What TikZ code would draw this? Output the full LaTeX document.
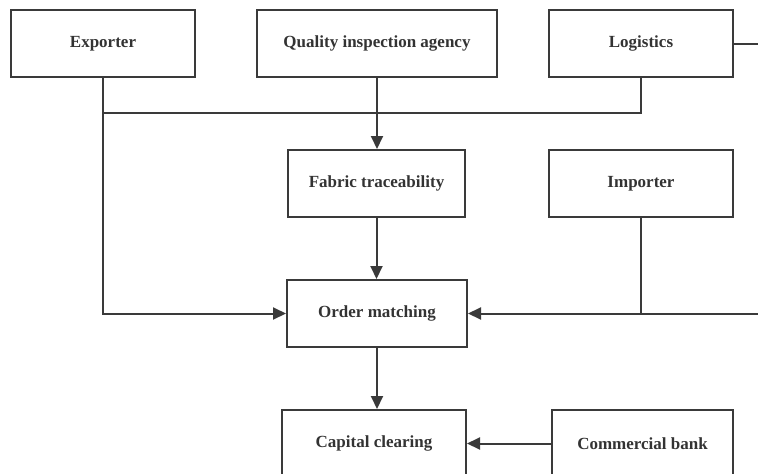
\documentclass[tikz,border=0pt]{standalone}
\usepackage{fontspec}
\setmainfont{Liberation Serif}
\usetikzlibrary{arrows.meta}
\definecolor{linec}{HTML}{3A3A3A}
\definecolor{textc}{HTML}{333333}

\begin{document}
\begin{tikzpicture}[
  x=1pt, y=-1pt,
  box/.style={rectangle, draw=linec, line width=2pt, minimum height=67pt, inner sep=2pt,
    font=\bfseries\fontsize{17}{20}\selectfont, text=textc},
  link/.style={draw=linec, line width=2pt},
  flow/.style={link, -{Triangle[length=13pt, width=12pt]}}
]
\useasboundingbox (0,0) rectangle (758,474);
% top row
\node[box, minimum width=184pt] (exp) at (103,43.5) {Exporter};
\node[box, minimum width=240pt] (qia) at (377,43.5) {Quality inspection agency};
\node[box, minimum width=184pt] (log) at (641,43.5) {Logistics};
% middle
\node[box, minimum width=177pt] (fab) at (376.5,183.5) {Fabric traceability};
\node[box, minimum width=184pt] (imp) at (641,183.5) {Importer};
\node[box, minimum width=180pt] (ord) at (377,313.5) {Order matching};
% bottom row
\node[box, minimum width=184pt] (cap) at (374,443.5) {Capital clearing};
\node[box, minimum width=181pt] (bank) at (642.5,443.5) {Commercial bank};

\coordinate (bus) at (0,113);
\coordinate (outA) at (758,43.5);
\coordinate (outB) at (758,313.5);

% connectors
\draw[link] (exp.south |- bus) -| (log.south);
\draw[link] (log.east) -- (outA);
\draw[flow] (exp.south) |- (ord.west);
\draw[flow] (qia.south) -- (qia.south |- fab.north);
\draw[flow] (fab.south) -- (fab.south |- ord.north);
\draw[link] (imp.south) -- (imp.south |- ord.east);
\draw[flow] (outB) -- (ord.east);
\draw[flow] (ord.south) -- (ord.south |- cap.north);
\draw[flow] (bank.west) -- (cap.east);
\end{tikzpicture}
\end{document}
